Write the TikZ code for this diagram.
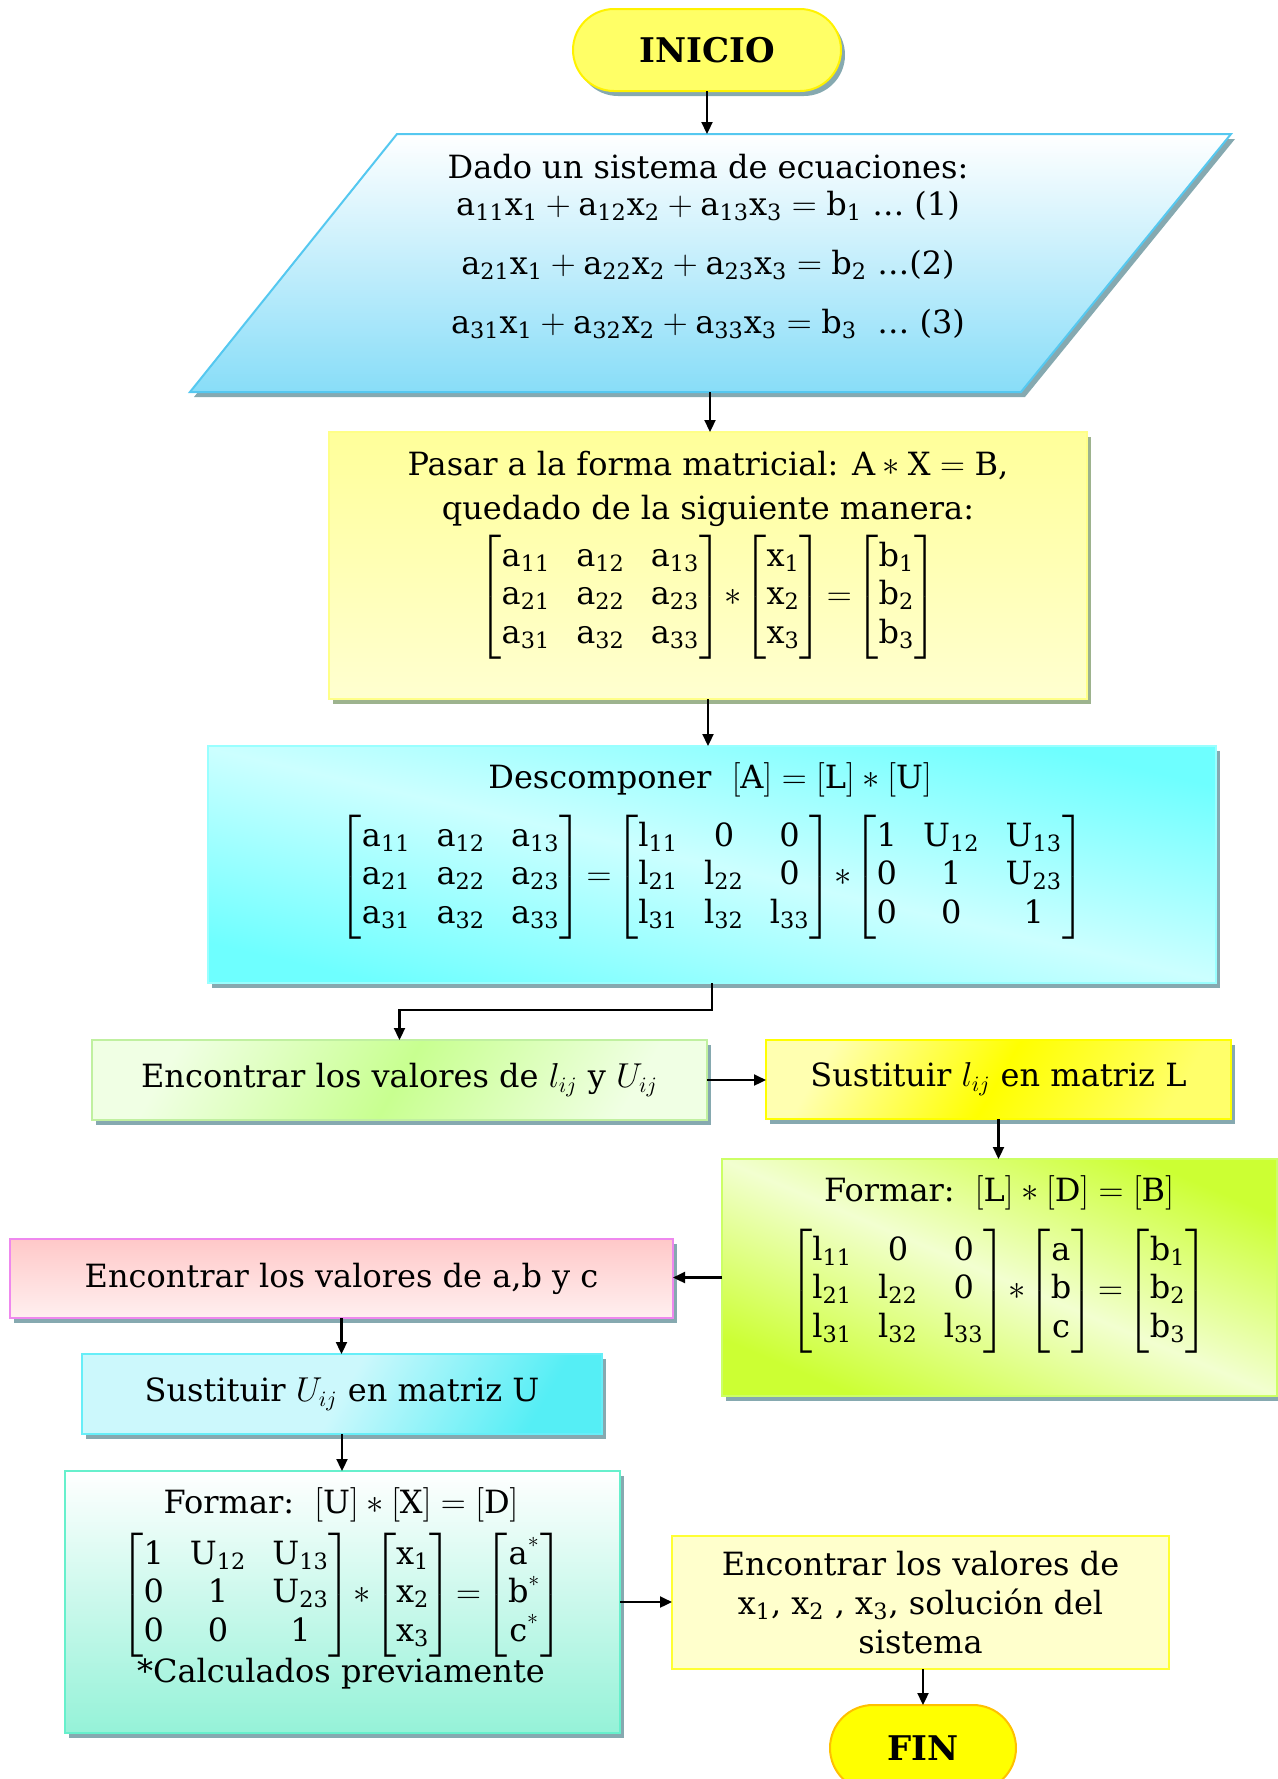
\documentclass[tikz,border=0pt]{standalone}
\usepackage{amsmath}
\usepackage{fontspec}
\setmainfont{DejaVu Serif}
\usetikzlibrary{shadows,arrows.meta,calc}
\definecolor{shadowc}{HTML}{86A9B0}
\definecolor{shadowg}{HTML}{9DB38E}
\definecolor{iniy}{HTML}{FFFF66}
\definecolor{iniyb}{HTML}{FFF200}
\definecolor{pblue}{HTML}{88DDF8}
\definecolor{pblueb}{HTML}{55C8F0}
\definecolor{pasart}{HTML}{FFFF9A}
\definecolor{pasarbt}{HTML}{FFFFD0}
\definecolor{pasarb}{HTML}{FFFF88}
\definecolor{cysat}{HTML}{6EFFFF}
\definecolor{cylight}{HTML}{CCFFFF}
\definecolor{cyb}{HTML}{99FFFF}
\definecolor{grsat}{HTML}{C8FF90}
\definecolor{grlight}{HTML}{F0FFE4}
\definecolor{grb}{HTML}{C0F0A0}
\definecolor{ylsat}{HTML}{FFFF00}
\definecolor{yllight}{HTML}{FFFFB0}
\definecolor{limesat}{HTML}{CCFF33}
\definecolor{limelight}{HTML}{F2FFD0}
\definecolor{limeb}{HTML}{CCFF66}
\definecolor{pinkt}{HTML}{FFC8C8}
\definecolor{pinkbt}{HTML}{FFF0F0}
\definecolor{pinkb}{HTML}{EE88EE}
\definecolor{susat}{HTML}{55EEF5}
\definecolor{sulight}{HTML}{CCF8FC}
\definecolor{sub}{HTML}{66EEF8}
\definecolor{tealbt}{HTML}{95F2D8}
\definecolor{tealb}{HTML}{66F0CC}
\definecolor{finaly}{HTML}{FFFFCC}
\definecolor{finalb}{HTML}{FFFF33}
\definecolor{finb}{HTML}{FFC000}
\newcommand{\mv}[2]{\mathrm{#1}_{\mathrm{#2}}}
\newcommand{\nr}[1]{\mathrm{#1}}
\setlength{\arraycolsep}{6.5pt}
\begin{document}
\begin{tikzpicture}[x=0.5pt,y=-0.5pt,
  every node/.style={font=\fontsize{16}{19.3}\selectfont, inner sep=0pt, outer sep=0pt},
  arr/.style={-{Triangle[length=6pt,width=5.5pt]}, line width=1.1pt, black},
  shad/.style={drop shadow={shadow xshift=2pt,shadow yshift=-2.5pt,fill=shadowc,opacity=1}},
  shadg/.style={drop shadow={shadow xshift=2pt,shadow yshift=-2.5pt,fill=shadowg,opacity=1}},
  boxline/.style={line width=1pt},
  term/.style={rectangle, boxline, font=\fontsize{17}{20}\selectfont\bfseries},
]
\useasboundingbox (0,0) rectangle (1278,1779);
\clip (0,0) rectangle (1278,1779);

% INICIO
\node[term, shad, fill=iniy, draw=iniyb, minimum width=134pt, minimum height=41pt, rounded corners=20.5pt] (ini) at (707,50) {INICIO};

% parallelogram
\path[shad, draw=pblueb, boxline, top color=white, bottom color=pblue]
  (397,134) -- (1231,134) -- (1021,392) -- (190,392) -- cycle;
\node[minimum width=100pt, minimum height=129pt] (eq) at (710,263) {};
\node (eqt) at (708,167) {Dado un sistema de ecuaciones:};
\node (eq1) at (708,206) {$\mv{a}{11}\mv{x}{1}+\mv{a}{12}\mv{x}{2}+\mv{a}{13}\mv{x}{3}=\mv{b}{1}$ … (1)};
\node (eq2) at (708,265) {$\mv{a}{21}\mv{x}{1}+\mv{a}{22}\mv{x}{2}+\mv{a}{23}\mv{x}{3}=\mv{b}{2}$ …(2)};
\node (eq3) at (708,324) {$\mv{a}{31}\mv{x}{1}+\mv{a}{32}\mv{x}{2}+\mv{a}{33}\mv{x}{3}=\mv{b}{3}$\ \ … (3)};

% Pasar
\node[shadg, draw=pasarb, boxline, top color=pasart, bottom color=pasarbt, minimum width=379pt, minimum height=133.5pt] (pasar) at (708,565.5) {};
\node (pt1) at (708,466) {Pasar a la forma matricial: $\mathrm{A}\ast\mathrm{X}=\mathrm{B}$,};
\node (pt2) at (708,511) {quedado de la siguiente manera:};
\node (pm) at (708,597) {$\begin{bmatrix}\mv{a}{11}&\mv{a}{12}&\mv{a}{13}\\\mv{a}{21}&\mv{a}{22}&\mv{a}{23}\\\mv{a}{31}&\mv{a}{32}&\mv{a}{33}\end{bmatrix}\!\ast\!\begin{bmatrix}\mv{x}{1}\\\mv{x}{2}\\\mv{x}{3}\end{bmatrix}\!=\!\begin{bmatrix}\mv{b}{1}\\\mv{b}{2}\\\mv{b}{3}\end{bmatrix}$};

% Descomponer
\node[shad, draw=cyb, boxline, left color=cysat, right color=cysat, middle color=cylight, shading angle=167, minimum width=504pt, minimum height=118.5pt] (desc) at (712,864.5) {};
\node (dt) at (710,780) {Descomponer\ \ $[\mathrm{A}]=[\mathrm{L}]\ast[\mathrm{U}]$};
\node (dm) at (712,877) {$\begin{bmatrix}\mv{a}{11}&\mv{a}{12}&\mv{a}{13}\\\mv{a}{21}&\mv{a}{22}&\mv{a}{23}\\\mv{a}{31}&\mv{a}{32}&\mv{a}{33}\end{bmatrix}\!=\!\begin{bmatrix}\mv{l}{11}&\nr{0}&\nr{0}\\\mv{l}{21}&\mv{l}{22}&\nr{0}\\\mv{l}{31}&\mv{l}{32}&\mv{l}{33}\end{bmatrix}\!\ast\!\begin{bmatrix}\nr{1}&\mv{U}{12}&\mv{U}{13}\\\nr{0}&\nr{1}&\mv{U}{23}\\\nr{0}&\nr{0}&\nr{1}\end{bmatrix}$};

% Encontrar l U
\node[shad, draw=grb, boxline, left color=grlight, right color=grlight, middle color=grsat, shading angle=60, minimum width=307.5pt, minimum height=40pt] (enc) at (399.5,1080) {Encontrar los valores de $l_{ij}$ y $U_{ij}$};

% Sustituir L
\node[shad, draw=ylsat, boxline, left color=yllight, right color=yllight!60!ylsat, middle color=ylsat, shading angle=60, minimum width=232.5pt, minimum height=39.5pt] (sustl) at (998.5,1079.5) {Sustituir $l_{ij}$ en matriz L};

% Formar L D B
\node[shad, draw=limeb, boxline, left color=limesat, right color=limesat, middle color=limelight, shading angle=157, minimum width=277.5pt, minimum height=118.5pt] (forml) at (999.5,1277.5) {};
\node (flt) at (999,1193) {Formar:\ \ $[\mathrm{L}]\ast[\mathrm{D}]=[\mathrm{B}]$};
\node (flm) at (999,1291) {$\begin{bmatrix}\mv{l}{11}&\nr{0}&\nr{0}\\\mv{l}{21}&\mv{l}{22}&\nr{0}\\\mv{l}{31}&\mv{l}{32}&\mv{l}{33}\end{bmatrix}\!\ast\!\begin{bmatrix}\mathrm{a}\\\mathrm{b}\\\mathrm{c}\end{bmatrix}\!=\!\begin{bmatrix}\mv{b}{1}\\\mv{b}{2}\\\mv{b}{3}\end{bmatrix}$};

% Encontrar a b c
\node[shad, draw=pinkb, boxline, top color=pinkt, bottom color=pinkbt, minimum width=331.5pt, minimum height=39.5pt] (encabc) at (341.5,1278.5) {Encontrar los valores de a,b y c};

% Sustituir U
\node[shad, draw=sub, boxline, left color=sulight, right color=susat, middle color=sulight, shading angle=60, minimum width=260pt, minimum height=40pt] (sustu) at (342,1394) {Sustituir $U_{ij}$ en matriz U};

% Formar U X D
\node[shad, draw=tealb, boxline, top color=white, bottom color=tealbt, minimum width=277.5pt, minimum height=131pt] (formu) at (342.5,1602) {};
\node (fut) at (341,1505) {Formar:\ \ $[\mathrm{U}]\ast[\mathrm{X}]=[\mathrm{D}]$};
\node (fum) at (342,1595) {$\begin{bmatrix}\nr{1}&\mv{U}{12}&\mv{U}{13}\\\nr{0}&\nr{1}&\mv{U}{23}\\\nr{0}&\nr{0}&\nr{1}\end{bmatrix}\!\ast\!\begin{bmatrix}\mv{x}{1}\\\mv{x}{2}\\\mv{x}{3}\end{bmatrix}\!=\!\begin{bmatrix}\mathrm{a}^{*}\\\mathrm{b}^{*}\\\mathrm{c}^{*}\end{bmatrix}$};
\node (fuc) at (341,1674) {*Calculados previamente};

% Final
\node[draw=finalb, boxline, fill=finaly, minimum width=248.5pt, minimum height=66.5pt, align=center] (final) at (920.5,1602.5) {Encontrar los valores de\\$\mv{x}{1}$, $\mv{x}{2}$ , $\mv{x}{3}$, solución del\\sistema};

% FIN
\node[term, fill=ylsat, draw=finb, minimum width=93pt, minimum height=43pt, rounded corners=21.5pt] (fin) at (923,1748) {FIN};

% connectors
\draw[arr] (ini.south) -- (ini.south |- eq.north);
\draw[arr] (eq.south) -- (eq.south |- pasar.north);
\draw[arr] (pasar.south) -- (pasar.south |- desc.north);
\draw[arr] (desc.south) -- ++(0,27) -| (enc.north);
\draw[arr] (enc.east) -- (enc.east -| sustl.west);
\draw[arr] (sustl.south) -- (sustl.south |- forml.north);
\draw[arr] (forml.west) -- (forml.west -| encabc.east);
\draw[arr] (encabc.south) -- (encabc.south |- sustu.north);
\draw[arr] (sustu.south) -- (sustu.south |- formu.north);
\draw[arr] (formu.east) -- (formu.east -| final.west);
\draw[arr] (fin.north |- final.south) -- (fin.north);
\end{tikzpicture}
\end{document}
